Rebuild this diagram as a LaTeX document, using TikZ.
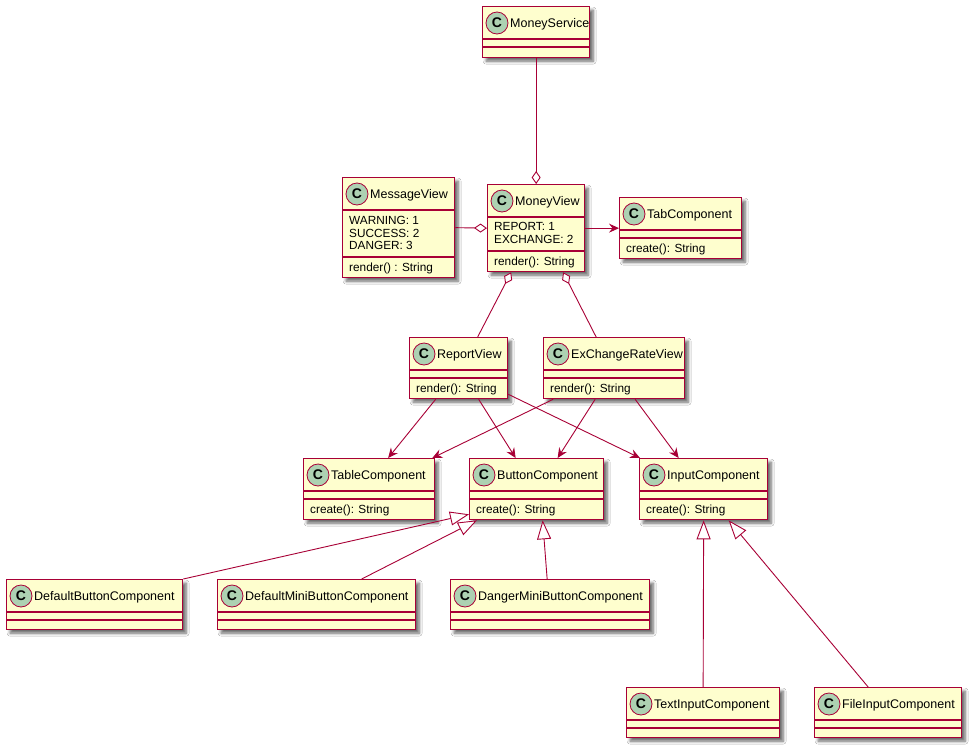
\documentclass[tikz,border=0pt]{standalone}
\usepackage{fontspec}
\setmainfont{Liberation Sans}
\usepackage{xcolor}
\usetikzlibrary{arrows.meta}
\usetikzlibrary{shadows.blur}
\definecolor{umlred}{HTML}{A80036}
\definecolor{umlfill}{HTML}{FEFECE}
\definecolor{umlicon}{HTML}{ADD1B2}
\newcommand{\titlefont}{\fontsize{12.5}{15}\selectfont}
\newcommand{\memberfont}{\fontsize{11.8}{13}\selectfont}
% class box: name, position, width, title, fields height, methods height
\newcommand{\umlclass}[6]{%
  \node[classbox, minimum width=#3, minimum height={33+#5+#6}] (#1) at (#2) {};
  \node[classicon] (#1-c) at ([xshift=15pt,yshift=-17pt]#1.north west) {C};
  \node[classname] (#1-n) at ([xshift=28pt,yshift=-21.5pt]#1.north west) {#4};
  \draw[classsep] ([yshift=-33pt]#1.north west) -- ([yshift=-33pt]#1.north east);
  \draw[classsep] ([yshift={-33pt-#5pt}]#1.north west) -- ([yshift={-33pt-#5pt}]#1.north east);
}

\begin{document}
\begin{tikzpicture}[x=1pt,y=-1pt,
    classbox/.style={rectangle, draw=umlred, fill=umlfill, line width=1.3pt, inner sep=0pt, anchor=north west,
      blur shadow={shadow xshift=3.5pt, shadow yshift=-3.5pt, shadow blur steps=6, shadow blur radius=3pt, shadow opacity=60}},
    classicon/.style={circle, draw=umlred, fill=umlicon, line width=0.8pt, minimum size=22pt, inner sep=0pt,
      font=\fontsize{14}{14}\selectfont\bfseries},
    classname/.style={anchor=base west, inner sep=0pt, font=\titlefont},
    classsep/.style={draw=umlred, line width=1.3pt},
    member/.style={anchor=base west, inner sep=0pt, font=\memberfont},
    assoc/.style={draw=umlred, line width=0.9pt, -{Stealth[length=10pt,width=9pt,inset=3.5pt]}},
    aggr/.style={draw=umlred, line width=0.9pt, -{Diamond[fill=white,length=13pt,width=9pt]}},
    inherit/.style={draw=umlred, line width=0.9pt, -{Triangle[fill=white,length=19pt,width=14pt]}}]
  \fill[white] (0,0) rectangle (970,745);
  \useasboundingbox (0,0) rectangle (970,745);

  % classes
  \umlclass{ms}{482,6}{107}{MoneyService}{8}{10}
  \umlclass{msg}{342,177}{112}{MessageView}{47}{20}
  \umlclass{mv}{487,184}{97}{MoneyView}{34}{20}
  \umlclass{tab}{619,197}{122}{TabComponent}{8}{20}
  \umlclass{rv}{409,337}{98}{ReportView}{8}{20}
  \umlclass{ex}{543,337}{141}{ExChangeRateView}{8}{20}
  \umlclass{tc}{303,458}{131}{TableComponent}{8}{20}
  \umlclass{bc}{469,458}{134}{ButtonComponent}{8}{20}
  \umlclass{ic}{639,458}{128}{InputComponent}{8}{20}
  \umlclass{db}{6,579}{176}{DefaultButtonComponent}{8}{9}
  \umlclass{dmb}{217,579}{198}{DefaultMiniButtonComponent}{8}{9}
  \umlclass{dgr}{450,579}{199}{DangerMiniButtonComponent}{8}{9}
  \umlclass{ti}{626,687}{153}{TextInputComponent}{8}{9}
  \umlclass{fi}{814,687}{147}{FileInputComponent}{8}{9}

  % fields and methods
  \node[member] (msg-f1) at ([xshift=7pt,yshift=-47pt]msg.north west) {WARNING: 1};
  \node[member] (msg-f2) at ([xshift=7pt,yshift=-60pt]msg.north west) {SUCCESS: 2};
  \node[member] (msg-f3) at ([xshift=7pt,yshift=-72.5pt]msg.north west) {DANGER: 3};
  \node[member] (msg-m) at ([xshift=7pt,yshift=-94.5pt]msg.north west) {render() : String};
  \node[member] (mv-f1) at ([xshift=7pt,yshift=-46.5pt]mv.north west) {REPORT: 1};
  \node[member] (mv-f2) at ([xshift=7pt,yshift=-59.5pt]mv.north west) {EXCHANGE: 2};
  \node[member] (mv-m) at ([xshift=7pt,yshift=-81.5pt]mv.north west) {render(): String};
  \node[member] (tab-m) at ([xshift=7pt,yshift=-55.5pt]tab.north west) {create(): String};
  \node[member] (rv-m) at ([xshift=7pt,yshift=-55.5pt]rv.north west) {render(): String};
  \node[member] (ex-m) at ([xshift=7pt,yshift=-55.5pt]ex.north west) {render(): String};
  \node[member] (tc-m) at ([xshift=7pt,yshift=-55.5pt]tc.north west) {create(): String};
  \node[member] (bc-m) at ([xshift=7pt,yshift=-55.5pt]bc.north west) {create(): String};
  \node[member] (ic-m) at ([xshift=7pt,yshift=-55.5pt]ic.north west) {create(): String};

  % connectors
  \draw[aggr] (ms.south) -- (mv.north);
  \draw[aggr] (msg.east) -- (mv.west);
  \draw[assoc] (mv.east) -- (tab.west);
  \draw[aggr] ([xshift=19pt]rv.north) -- ([xshift=-25pt]mv.south);
  \draw[aggr] ([xshift=-18pt]ex.north) -- ([xshift=27pt]mv.south);
  \draw[assoc] ([xshift=-23pt]rv.south) -- ([xshift=19pt]tc.north);
  \draw[assoc] ([xshift=20pt]rv.south) -- ([xshift=-21pt]bc.north);
  \draw[assoc] ([yshift=5pt]rv.south east) -- ([xshift=1pt]ic.north west);
  \draw[assoc] ([xshift=-61pt]ex.south) -- ([xshift=-3pt]tc.north east);
  \draw[assoc] ([xshift=-19pt]ex.south) -- ([xshift=21pt]bc.north);
  \draw[assoc] ([xshift=21pt]ex.south) -- ([xshift=-25pt]ic.north);
  \draw[inherit] (db.north east) -- ([yshift=6pt]bc.south west);
  \draw[inherit] ([xshift=45pt]dmb.north) -- ([xshift=8pt]bc.south west);
  \draw[inherit] ([xshift=-3pt]dgr.north) -- ([xshift=6pt]bc.south);
  \draw[inherit] (ti.north) -- (ic.south);
  \draw[inherit] ([xshift=-20pt]fi.north) -- ([xshift=25pt]ic.south);
\end{tikzpicture}
\end{document}
